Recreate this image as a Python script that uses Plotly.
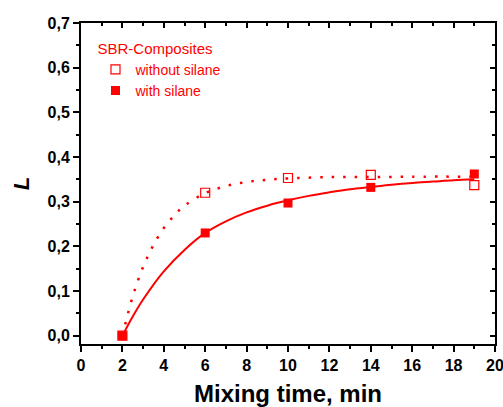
import plotly.graph_objects as go

# measured data
time_pts = [2, 6, 10, 14, 19]
without_silane = [0.0, 0.320, 0.353, 0.360, 0.337]
with_silane = [0.0, 0.230, 0.297, 0.332, 0.362]

# fitted curves
fit_x_without = [2, 2.5, 3, 3.5, 4, 4.5, 5, 6, 7, 8, 9, 10, 12, 14, 16, 19]
fit_y_without = [0.0, 0.088, 0.154, 0.203, 0.241, 0.269, 0.291, 0.319, 0.335, 0.344, 0.349, 0.352, 0.355, 0.355, 0.356, 0.356]
fit_x_with = [2, 2.5, 3, 4, 5, 6, 7, 8, 9, 10, 11, 12, 13, 14, 15, 16, 17, 18, 19]
fit_y_with = [0.0, 0.043, 0.081, 0.144, 0.192, 0.230, 0.256, 0.276, 0.291, 0.303, 0.313, 0.321, 0.328, 0.333, 0.338, 0.342, 0.345, 0.348, 0.350]

# tick labels
x_tick_vals = [0, 2, 4, 6, 8, 10, 12, 14, 16, 18, 20]
x_tick_labels = ["0", "2", "4", "6", "8", "10", "12", "14", "16", "18", "20"]
y_tick_vals = [0.0, 0.1, 0.2, 0.3, 0.4, 0.5, 0.6, 0.7]
y_tick_labels = ["0,0", "0,1", "0,2", "0,3", "0,4", "0,5", "0,6", "0,7"]

RED = "#ff0000"
FONT = "Liberation Sans"

fig = go.Figure()
fig.add_trace(go.Scatter(x=fit_x_without, y=fit_y_without, mode="lines", line_shape="spline",
                         line=dict(color=RED, width=2.5, dash="2.5px,9px"), showlegend=False, hoverinfo="skip"))
fig.add_trace(go.Scatter(x=fit_x_with, y=fit_y_with, mode="lines", line_shape="spline",
                         line=dict(color=RED, width=2), showlegend=False, hoverinfo="skip"))
fig.add_trace(go.Scatter(x=time_pts, y=without_silane, mode="markers", name="without silane",
                         marker=dict(symbol="square-open", size=9, color=RED, line=dict(width=1.2, color=RED))))
fig.add_trace(go.Scatter(x=time_pts, y=with_silane, mode="markers", name="with silane",
                         marker=dict(symbol="square", size=9, color=RED)))
# empty trace so the mirrored (top/right) axes are drawn
fig.add_trace(go.Scatter(x=[], y=[], xaxis="x2", yaxis="y2", showlegend=False, hoverinfo="skip"))

axis_common = dict(showline=True, linecolor="black", linewidth=2, showgrid=False, zeroline=False,
                   tickcolor="black", tickwidth=2, automargin=False)
tick_font = dict(size=16, family=FONT, color="black", weight="bold")

fig.update_layout(
    width=503, height=407,
    margin=dict(l=81, r=8, t=23, b=63),
    plot_bgcolor="white", paper_bgcolor="white",
    font=dict(family=FONT, color="black", size=16),
    xaxis=dict(range=[0, 20], tickmode="array", tickvals=x_tick_vals,
               ticktext=x_tick_labels,
               ticks="outside", ticklen=6, ticklabeloverflow="allow",
               minor=dict(tick0=0, dtick=1, ticks="outside", ticklen=3, tickcolor="black", tickwidth=2),
               tickfont=tick_font,
               title=dict(text="<b>Mixing time, min</b>", font=dict(size=24, family=FONT), standoff=18),
               **axis_common),
    yaxis=dict(range=[-0.0186, 0.7], tickmode="array", tickvals=y_tick_vals,
               ticktext=y_tick_labels,
               ticks="outside", ticklen=6,
               minor=dict(tick0=0, dtick=0.05, ticks="outside", ticklen=3, tickcolor="black", tickwidth=2),
               tickfont=tick_font,
               title=dict(text="<b><i>L</i></b>", font=dict(size=22, family=FONT), standoff=12),
               **axis_common),
    xaxis2=dict(range=[0, 20], overlaying="x", side="top", anchor="y2", dtick=2, ticks="inside", ticklen=5,
                minor=dict(tick0=0, dtick=1, ticks="inside", ticklen=3, tickcolor="black", tickwidth=2),
                showticklabels=False, **axis_common),
    yaxis2=dict(range=[-0.0186, 0.7], overlaying="y", side="right", anchor="x2", dtick=0.1, tick0=0,
                ticks="inside", ticklen=5,
                minor=dict(tick0=0, dtick=0.05, ticks="inside", ticklen=3, tickcolor="black", tickwidth=2),
                showticklabels=False, **axis_common),
    legend=dict(x=0.035, y=0.965, xanchor="left", yanchor="top", bgcolor="rgba(0,0,0,0)",
                font=dict(size=14, color=RED, family=FONT),
                title=dict(text="SBR-Composites", font=dict(size=15, color=RED, family=FONT), side="top"),
                tracegroupgap=0),
)

fig.write_html("out.html")
